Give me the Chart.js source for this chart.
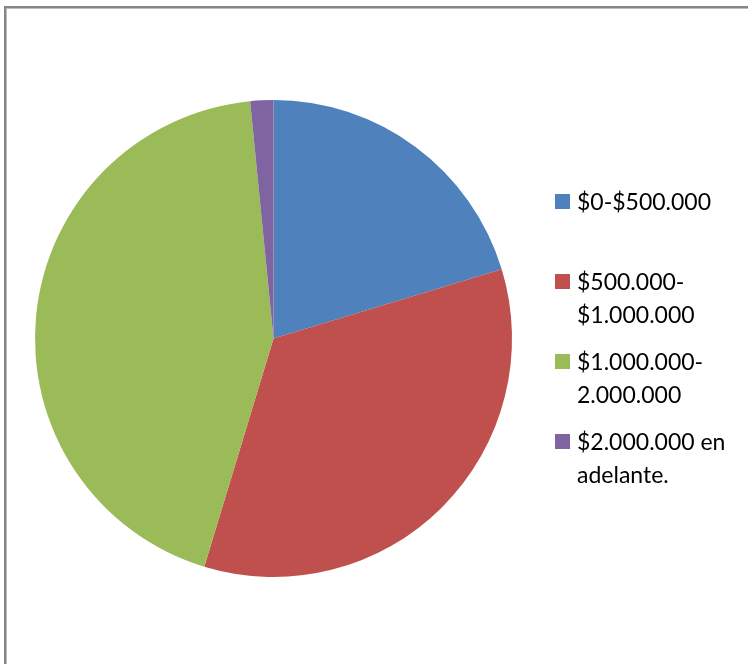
<!DOCTYPE html>
<html>
<head>
<meta charset="utf-8">
<script src="https://cdn.jsdelivr.net/npm/chart.js@4"></script>
<style>
  html, body { margin:0; padding:0; background:#fff; }
  canvas { display:block; }
</style>
</head>
<body>
<canvas id="pieChart" width="748" height="664"></canvas>
<script>
// income brackets and how many answers fell in each
const categories = [
  ['$0-$500.000'],
  ['$500.000-', '$1.000.000'],
  ['$1.000.000-', '2.000.000'],
  ['$2.000.000 en', 'adelante.']
];
const counts = [13, 22, 28, 1];
const colors = ['#4F81BD', '#C0504D', '#9BBB59', '#8064A2'];

// grey frame along the top and left edges
const framePlugin = {
  id: 'frame',
  beforeDraw(chart){
    const c = chart.ctx;
    c.save();
    c.fillStyle = '#fff';
    c.fillRect(0, 0, chart.width, chart.height);
    c.fillStyle = '#868686';
    c.fillRect(4, 6, 2, chart.height);
    c.fillRect(4, 6, chart.width, 2);
    c.fillStyle = '#bdbdbd';
    c.fillRect(6, 8, 1, chart.height);
    c.fillRect(6, 8, chart.width, 1);
    c.restore();
  }
};

// legend on the right, one slot per entry, labels can wrap to two lines
const sideLegend = {
  id: 'sideLegend',
  afterDraw(chart){
    const c = chart.ctx;
    const labels = chart.data.labels;
    const bg = chart.data.datasets[0].backgroundColor;
    const boxX = 555, textX = 577, firstBase = 210, slot = 80, lineH = 32.5, box = 15;
    c.save();
    c.font = '23px Lato, "Open Sans", sans-serif';
    c.fillStyle = '#000';
    c.textBaseline = 'alphabetic';
    labels.forEach((lines, i) => {
      const base = firstBase + i * slot;
      c.fillStyle = bg[i];
      c.fillRect(boxX, base - 16, box, box);
      c.fillStyle = '#000';
      lines.forEach((ln, j) => c.fillText(ln, textX, base + j * lineH));
    });
    c.restore();
  }
};

new Chart(document.getElementById('pieChart').getContext('2d'), {
  type: 'pie',
  data: {
    labels: categories,
    datasets: [{ data: counts, backgroundColor: colors, borderWidth: 0 }]
  },
  options: {
    responsive: false,
    animation: false,
    layout: { padding: { left: 35, right: 236, top: 100, bottom: 87 } },
    plugins: { legend: { display: false }, tooltip: { enabled: false } }
  },
  plugins: [framePlugin, sideLegend]
});
</script>
</body>
</html>
